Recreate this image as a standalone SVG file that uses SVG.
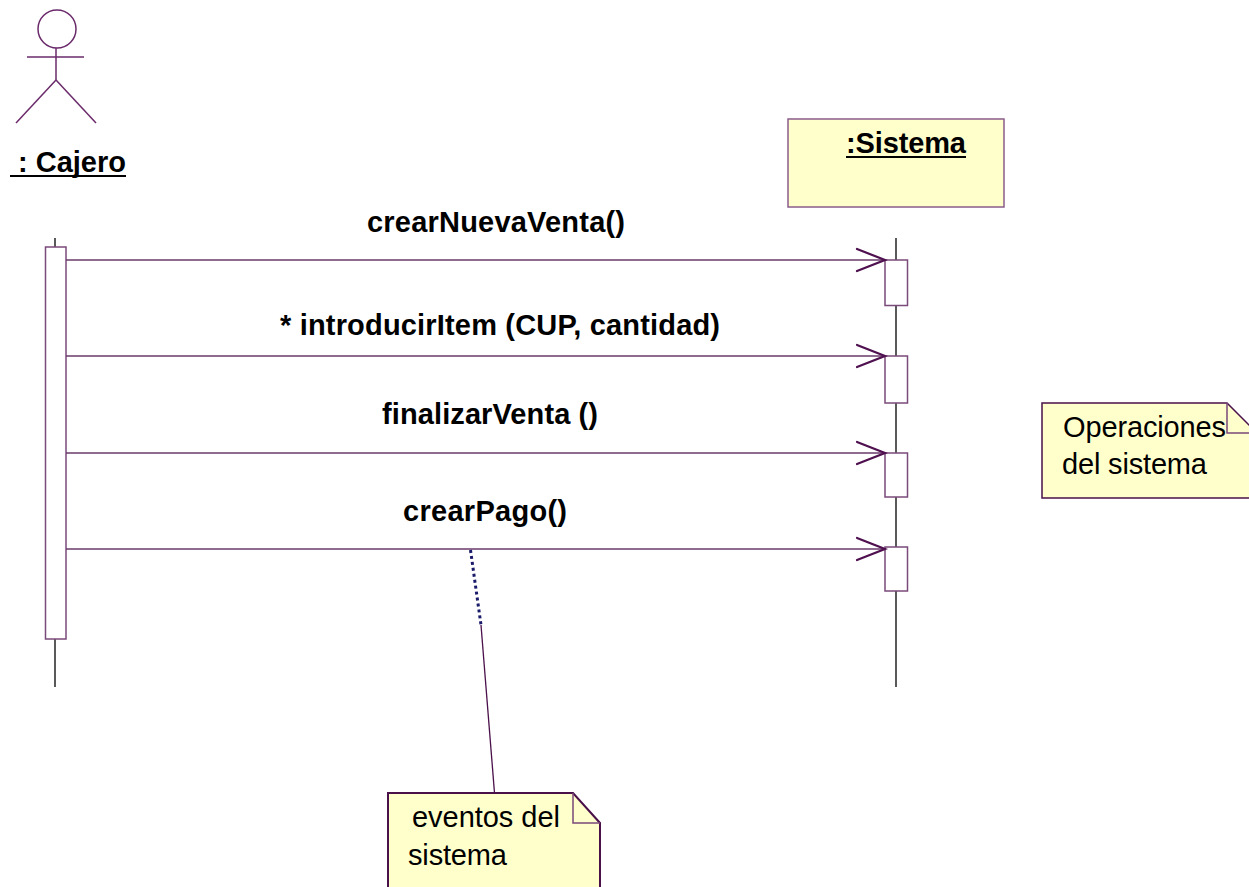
<svg xmlns="http://www.w3.org/2000/svg" width="1249" height="887" viewBox="0 0 1249 887">
<style>
.lbl{font-family:"Liberation Sans",Arial,sans-serif;font-weight:bold;font-size:29px;fill:#000}
.note{font-family:"Liberation Sans",Arial,sans-serif;font-size:29px;fill:#000}
.life{stroke:#000;stroke-width:1.3;fill:none}
.act{fill:#fff;stroke:#7a4a7a;stroke-width:1.5}
.msg{stroke:#6a3a6a;stroke-width:1.3;fill:none}
.head{stroke:#4f104f;stroke-width:2.2;fill:none;stroke-linecap:round}
.actor{stroke:#6a2a6a;stroke-width:1.5;fill:none}
.ul{stroke:#000;stroke-width:2}
</style>
<rect width="1249" height="887" fill="#fff"/>
<g id="cajero">
  <circle class="actor" cx="57" cy="29" r="19"/>
  <line class="actor" x1="56" y1="48" x2="56" y2="80"/>
  <line class="actor" x1="27" y1="57" x2="84" y2="57"/>
  <line class="actor" x1="56" y1="80" x2="16" y2="123"/>
  <line class="actor" x1="56" y1="80" x2="96" y2="123"/>
  <text class="lbl" x="10" y="172" textLength="116" lengthAdjust="spacing" xml:space="preserve"> : Cajero</text>
  <line class="ul" x1="10" y1="176" x2="126" y2="176"/>
  <line class="life" x1="55" y1="238" x2="55" y2="687"/>
  <rect class="act" x="45.5" y="247" width="20.5" height="392"/>
</g>
<g id="sistema">
  <rect x="788" y="119" width="216" height="88" fill="#ffffcc" stroke="#8a5c8a" stroke-width="1.5"/>
  <text class="lbl" x="846" y="153" textLength="120" lengthAdjust="spacing">:Sistema</text>
  <line class="ul" x1="846" y1="157" x2="966" y2="157"/>
  <line class="life" x1="896" y1="238" x2="896" y2="687"/>
  <rect class="act" x="885" y="260" width="22.5" height="45.5"/>
  <rect class="act" x="885" y="356" width="22.5" height="47"/>
  <rect class="act" x="885" y="453" width="22.5" height="44"/>
  <rect class="act" x="885" y="547" width="22.5" height="44"/>
</g>
<g id="connectors">
  <line class="msg" x1="66" y1="260" x2="885" y2="260"/>
  <polyline class="head" points="857,249 885,260 857,271"/>
  <line class="msg" x1="66" y1="356" x2="885" y2="356"/>
  <polyline class="head" points="857,345 885,356 857,367"/>
  <line class="msg" x1="66" y1="453" x2="885" y2="453"/>
  <polyline class="head" points="857,442 885,453 857,464"/>
  <line class="msg" x1="66" y1="549" x2="885" y2="549"/>
  <polyline class="head" points="857,538 885,549 857,560"/>
  <line x1="470.5" y1="550" x2="481" y2="625" stroke="#1a1a6a" stroke-width="3" stroke-dasharray="3,3"/>
  <line x1="481" y1="625" x2="494.5" y2="793" stroke="#4a104a" stroke-width="1.3"/>
</g>
<g id="labels">
  <text class="lbl" x="367" y="232" textLength="258" lengthAdjust="spacing">crearNuevaVenta()</text>
  <text class="lbl" x="280" y="335" textLength="440" lengthAdjust="spacing">* introducirItem (CUP, cantidad)</text>
  <text class="lbl" x="382" y="424" textLength="216" lengthAdjust="spacing">finalizarVenta ()</text>
  <text class="lbl" x="403" y="521" textLength="164" lengthAdjust="spacing">crearPago()</text>
</g>
<g id="note-operaciones">
  <path d="M1042,403 L1227,403 L1257,433 L1257,498 L1042,498 Z" fill="#ffffcc" stroke="#4a104a" stroke-width="1.5"/>
  <polyline points="1227,403 1227,433 1257,433" fill="none" stroke="#7a4a7a" stroke-width="1.5"/>
  <text class="note" x="1063" y="437" textLength="163" lengthAdjust="spacing">Operaciones</text>
  <text class="note" x="1062" y="474" textLength="145" lengthAdjust="spacing">del sistema</text>
</g>
<g id="note-eventos">
  <path d="M388,793 L573,793 L600,823 L600,900 L388,900 Z" fill="#ffffcc" stroke="#4a104a" stroke-width="2"/>
  <polyline points="573,793 573,823 600,823" fill="none" stroke="#7a4a7a" stroke-width="1.5"/>
  <text class="note" x="412" y="827" textLength="148" lengthAdjust="spacing">eventos del</text>
  <text class="note" x="408" y="865" textLength="99" lengthAdjust="spacing">sistema</text>
</g>
</svg>
